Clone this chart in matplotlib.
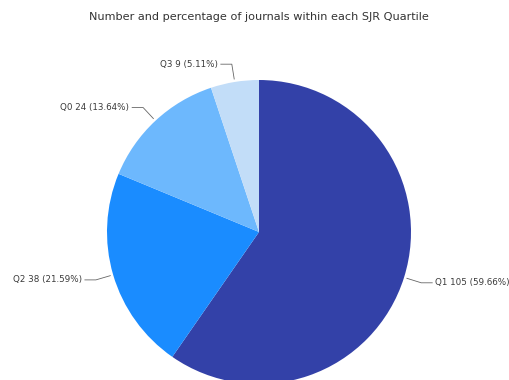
import numpy as np
import matplotlib
matplotlib.use("Agg")
import matplotlib.pyplot as plt

categories = ["Q1", "Q2", "Q0", "Q3"]
counts = [105, 38, 24, 9]
percents = [59.66, 21.59, 13.64, 5.11]
colors = ["#3341a8", "#1a8cff", "#6db8fd", "#c2ddf8"]

W, H = 510, 380
fig = plt.figure(figsize=(W / 100, H / 100), dpi=100)
ax = fig.add_axes([0, 0, 1, 1])

cx, cy, r = 259, H - 232, 152
wedges, _ = ax.pie(counts, colors=colors, startangle=90, counterclock=False,
                   center=(cx, cy), radius=r, frame=True,
                   wedgeprops=dict(edgecolor="none", linewidth=0))
ax.set_xlim(0, W)
ax.set_ylim(0, H)
ax.axis("off")

for w, cat, n, p in zip(wedges, categories, counts, percents):
    ang = np.deg2rad((w.theta1 + w.theta2) / 2)
    dx, dy = np.cos(ang), np.sin(ang)
    p0 = (cx + (r + 3) * dx, cy + (r + 3) * dy)
    p1 = (cx + (r + 18) * dx, cy + (r + 18) * dy)
    side = 1 if dx >= 0 else -1
    p2 = (p1[0] + side * 11, p1[1])
    ax.plot([p0[0], p1[0], p2[0]], [p0[1], p1[1], p2[1]], color="#666666", lw=0.6)
    ax.text(p2[0] + side * 3, p2[1], f"{cat} {n} ({p:.2f}%)",
            ha="left" if side > 0 else "right", va="center",
            fontsize=6.3, color="#3a3a3a")

fig.text(259 / W, 1 - 17 / H, "Number and percentage of journals within each SJR Quartile",
         ha="center", va="center", fontsize=8.1, color="#333333")

fig.savefig("out.png", dpi=100, facecolor="white")
